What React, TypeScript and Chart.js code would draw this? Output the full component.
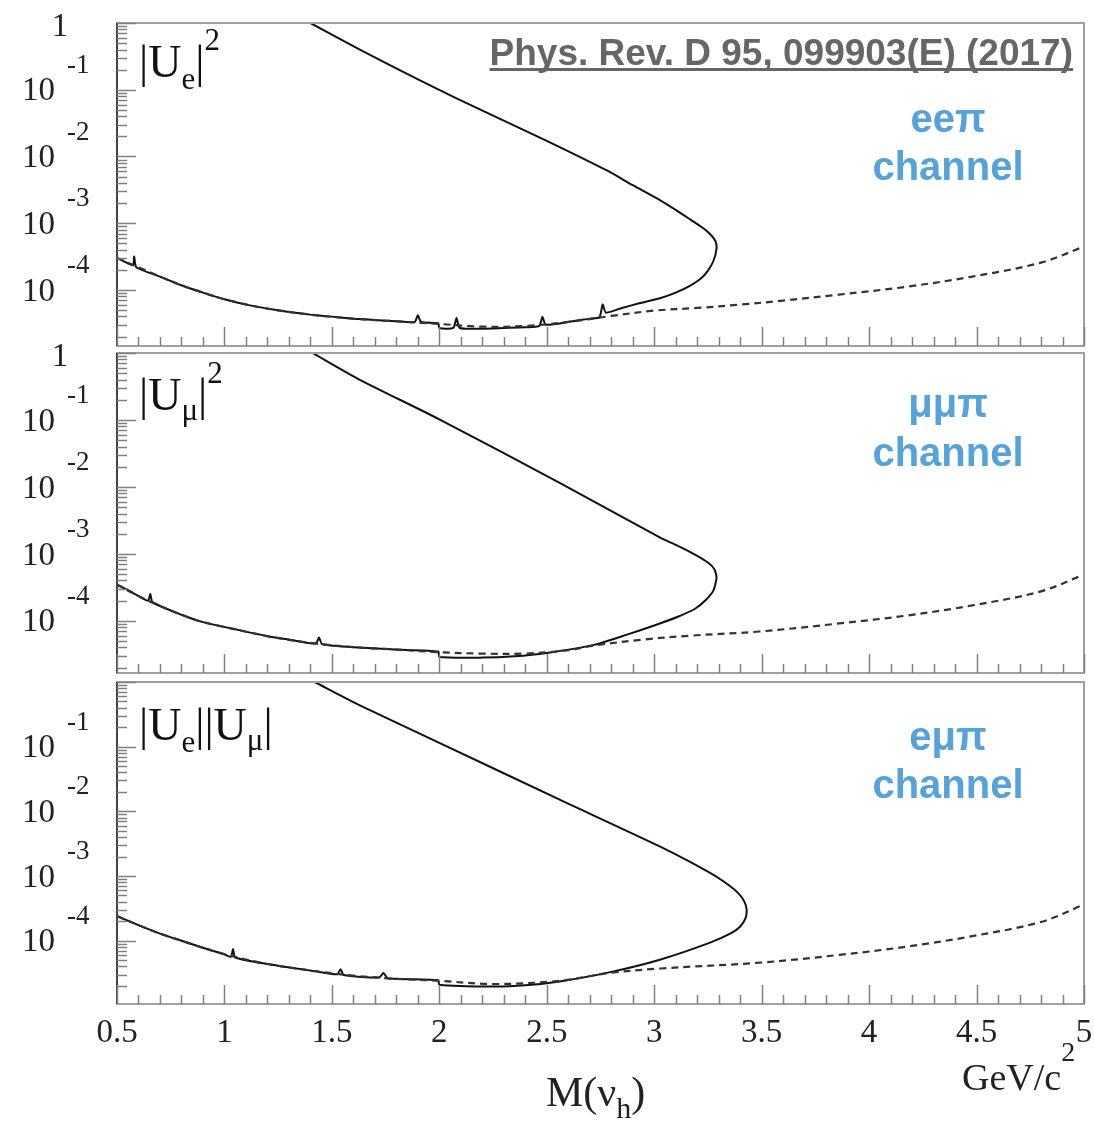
import React, { useEffect, useRef } from "react";
import { Chart, registerables } from "chart.js";
Chart.register(...registerables);

const W = 1094;
const H = 1122;

// x axis
const xTickValues = [0.5, 1, 1.5, 2, 2.5, 3, 3.5, 4, 4.5, 5];
const xTickLabels = ["0.5", "1", "1.5", "2", "2.5", "3", "3.5", "4", "4.5", "5"];
const yDecadeExponents = [-4, -3, -2, -1];

// ---- panel 1: |Ue|^2, ee pi channel (values are log10 of |U|^2) ----
const eeSolidMass = [0.50, 0.55, 0.575, 0.58, 0.59, 0.70, 0.80, 0.90, 1.00, 1.10, 1.20, 1.30, 1.40, 1.50, 1.60, 1.70, 1.80, 1.885, 1.90, 1.915, 1.995, 2.00, 2.065, 2.08, 2.095, 2.20, 2.30, 2.40, 2.465, 2.48, 2.495, 2.60, 2.70, 2.745, 2.76, 2.775, 2.85, 2.93, 3.03, 3.10, 3.17, 3.22, 3.25, 3.275, 3.29, 3.285, 3.265, 3.23, 3.17, 3.10, 3.03, 2.90, 2.78, 2.49, 2.08, 1.91, 1.63, 1.40, 1.37];
const eeSolidLog = [-3.52, -3.60, -3.63, -3.50, -3.66, -3.80, -3.93, -4.04, -4.14, -4.22, -4.28, -4.33, -4.37, -4.40, -4.43, -4.45, -4.47, -4.48, -4.38, -4.48, -4.50, -4.57, -4.57, -4.42, -4.57, -4.58, -4.57, -4.56, -4.54, -4.40, -4.52, -4.48, -4.43, -4.41, -4.22, -4.34, -4.27, -4.20, -4.12, -4.04, -3.93, -3.82, -3.71, -3.57, -3.38, -3.27, -3.18, -3.08, -2.95, -2.80, -2.66, -2.43, -2.21, -1.75, -1.13, -0.86, -0.40, 0.0, 0.05];
const eeDashMass = [0.50, 0.60, 0.70, 0.80, 0.90, 1.00, 1.20, 1.40, 1.60, 1.80, 2.00, 2.20, 2.40, 2.60, 2.80, 3.00, 3.20, 3.40, 3.60, 3.86, 4.18, 4.48, 4.80, 5.00];
const eeDashLog = [-3.52, -3.66, -3.80, -3.93, -4.04, -4.14, -4.28, -4.37, -4.43, -4.47, -4.51, -4.55, -4.54, -4.48, -4.39, -4.31, -4.27, -4.22, -4.16, -4.07, -3.95, -3.80, -3.59, -3.35];

// ---- panel 2: |Umu|^2, mu mu pi channel ----
const mmSolidMass = [0.50, 0.55, 0.60, 0.645, 0.655, 0.665, 0.80, 0.90, 1.04, 1.20, 1.30, 1.425, 1.44, 1.455, 1.63, 1.80, 1.995, 2.00, 2.20, 2.35, 2.50, 2.72, 2.87, 3.00, 3.11, 3.19, 3.24, 3.275, 3.29, 3.28, 3.25, 3.19, 3.11, 3.03, 2.56, 2.00, 1.63, 1.41, 1.38];
const mmSolidLog = [-3.46, -3.54, -3.63, -3.70, -3.60, -3.72, -3.91, -4.02, -4.12, -4.23, -4.28, -4.34, -4.25, -4.35, -4.40, -4.43, -4.46, -4.54, -4.55, -4.53, -4.48, -4.36, -4.21, -4.07, -3.94, -3.82, -3.69, -3.55, -3.36, -3.23, -3.13, -3.01, -2.88, -2.76, -1.94, -0.99, -0.40, 0.0, 0.05];
const mmDashMass = [0.50, 0.60, 0.70, 0.80, 0.90, 1.04, 1.20, 1.40, 1.63, 1.80, 2.00, 2.20, 2.40, 2.60, 2.72, 2.95, 3.18, 3.49, 3.86, 4.18, 4.48, 4.80, 5.00];
const mmDashLog = [-3.46, -3.63, -3.78, -3.91, -4.02, -4.12, -4.23, -4.33, -4.40, -4.43, -4.47, -4.49, -4.49, -4.44, -4.37, -4.28, -4.22, -4.16, -4.04, -3.92, -3.77, -3.56, -3.31];

// ---- panel 3: |Ue||Umu|, e mu pi channel ----
const emSolidMass = [0.50, 0.60, 0.70, 0.80, 0.90, 1.00, 1.03, 1.04, 1.05, 1.20, 1.40, 1.525, 1.54, 1.555, 1.72, 1.74, 1.76, 1.995, 2.00, 2.25, 2.40, 2.56, 2.79, 3.03, 3.26, 3.36, 3.40, 3.425, 3.43, 3.42, 3.39, 3.33, 3.26, 3.03, 2.56, 2.00, 1.63, 1.42, 1.39];
const emSolidLog = [-3.62, -3.76, -3.89, -4.00, -4.11, -4.21, -4.25, -4.13, -4.26, -4.36, -4.46, -4.52, -4.44, -4.53, -4.57, -4.50, -4.58, -4.61, -4.68, -4.71, -4.69, -4.63, -4.49, -4.29, -4.03, -3.88, -3.78, -3.65, -3.52, -3.40, -3.26, -3.10, -2.95, -2.55, -1.82, -0.94, -0.36, 0.0, 0.05];
const emDashMass = [0.50, 0.60, 0.70, 0.80, 0.90, 1.00, 1.20, 1.40, 1.60, 1.80, 2.00, 2.25, 2.56, 2.79, 3.03, 3.49, 3.86, 4.18, 4.48, 4.80, 5.00];
const emDashLog = [-3.62, -3.76, -3.89, -4.00, -4.11, -4.21, -4.36, -4.46, -4.54, -4.59, -4.62, -4.67, -4.62, -4.50, -4.43, -4.34, -4.22, -4.09, -3.93, -3.71, -3.44];

const SERIF = '"Liberation Serif", "Times New Roman", serif';
const SANS = '"Liberation Sans", Arial, sans-serif';
const BLUE = "#56a3dc";

type Part = { t: string; size: number; dy: number };

const panels = [
  {
    top: 23, bottom: 346, yMin: 1.445e-5, yMax: 1,
    solidMass: eeSolidMass, solidLog: eeSolidLog, dashMass: eeDashMass, dashLog: eeDashLog,
    label: [{ t: "|U", size: 46, dy: 0 }, { t: "e", size: 31, dy: 12 }, { t: "|", size: 46, dy: 0 }, { t: "2", size: 31, dy: -27 }] as Part[],
    labelBase: 77, chan: "ee\u03c0", chanBase: 132, chanBase2: 180, showOne: true, showRef: true, showX: false,
  },
  {
    top: 353, bottom: 673, yMin: 1.66e-5, yMax: 1,
    solidMass: mmSolidMass, solidLog: mmSolidLog, dashMass: mmDashMass, dashLog: mmDashLog,
    label: [{ t: "|U", size: 46, dy: 0 }, { t: "\u03bc", size: 31, dy: 10 }, { t: "|", size: 46, dy: 0 }, { t: "2", size: 31, dy: -27 }] as Part[],
    labelBase: 410, chan: "\u03bc\u03bc\u03c0", chanBase: 417, chanBase2: 466, showOne: true, showRef: false, showX: false,
  },
  {
    top: 682, bottom: 1004, yMin: 1.05e-5, yMax: 1,
    solidMass: emSolidMass, solidLog: emSolidLog, dashMass: emDashMass, dashLog: emDashLog,
    label: [{ t: "|U", size: 46, dy: 0 }, { t: "e", size: 31, dy: 12 }, { t: "||U", size: 46, dy: 0 }, { t: "\u03bc", size: 31, dy: 10 }, { t: "|", size: 46, dy: 0 }] as Part[],
    labelBase: 740, chan: "e\u03bc\u03c0", chanBase: 750, chanBase2: 798, showOne: false, showRef: false, showX: true,
  },
];

function drawParts(ctx: CanvasRenderingContext2D, parts: Part[], x: number, base: number, family: string) {
  let cx = x;
  for (const p of parts) {
    ctx.font = `${p.size}px ${family}`;
    ctx.fillText(p.t, cx, base + p.dy);
    cx += ctx.measureText(p.t).width;
  }
  return cx;
}

function makeOverlay(p: any) {
  return {
    id: "rootStyleOverlay",
    afterDraw(chart: any) {
      const ctx: CanvasRenderingContext2D = chart.ctx;
      const a = chart.chartArea;
      const xs = chart.scales.x;
      const ys = chart.scales.y;
      ctx.save();
      // frame
      ctx.strokeStyle = "#a0a0a0";
      ctx.lineWidth = 2;
      ctx.strokeRect(a.left, a.top, a.right - a.left, a.bottom - a.top);
      ctx.strokeStyle = "#444";
      ctx.beginPath();
      ctx.moveTo(a.left, a.top);
      ctx.lineTo(a.left, a.bottom);
      ctx.stroke();

      // x ticks (inside, bottom only)
      ctx.strokeStyle = "#808080";
      ctx.lineWidth = 1.5;
      for (let i = 5; i <= 50; i++) {
        const v = i / 10;
        const px = Math.round(xs.getPixelForValue(v)) + 0.5;
        const len = i % 5 === 0 ? 19 : 9;
        ctx.beginPath();
        ctx.moveTo(px, a.bottom);
        ctx.lineTo(px, a.bottom - len);
        ctx.stroke();
      }
      // y ticks (inside, left only)
      for (let k = -6; k <= 0; k++) {
        for (let d = 1; d <= 9; d++) {
          const v = d * Math.pow(10, k);
          if (v < p.yMin || v > p.yMax * 1.0001) continue;
          const py = Math.round(ys.getPixelForValue(v)) + 0.5;
          const len = d === 1 ? 19 : 10;
          ctx.beginPath();
          ctx.moveTo(a.left, py);
          ctx.lineTo(a.left + len, py);
          ctx.stroke();
        }
      }

      // y labels
      ctx.fillStyle = "#222";
      ctx.textBaseline = "middle";
      for (const e of yDecadeExponents) {
        const py = ys.getPixelForValue(Math.pow(10, e));
        ctx.font = `33px ${SERIF}`;
        ctx.textAlign = "right";
        ctx.fillText("10", 55, py + 2);
        ctx.font = `27px ${SERIF}`;
        ctx.textAlign = "left";
        ctx.fillText(`${e}`, 67, py - 24);
      }
      if (p.showOne) {
        const py = ys.getPixelForValue(1);
        ctx.font = `33px ${SERIF}`;
        ctx.textAlign = "center";
        ctx.fillText("1", 60, py + 4);
      }

      // panel label
      ctx.textBaseline = "alphabetic";
      ctx.textAlign = "left";
      ctx.fillStyle = "#111";
      drawParts(ctx, p.label, 139, p.labelBase, SERIF);

      // channel text
      ctx.fillStyle = BLUE;
      ctx.textAlign = "center";
      ctx.font = `bold 40px ${SANS}`;
      ctx.fillText(p.chan, 948, p.chanBase);
      ctx.fillText("channel", 948, p.chanBase2);

      // reference text
      if (p.showRef) {
        const txt = "Phys. Rev. D 95, 099903(E) (2017)";
        ctx.font = `bold 37px ${SANS}`;
        ctx.fillStyle = "#666";
        ctx.textAlign = "right";
        ctx.fillText(txt, 1073, 65);
        const w = ctx.measureText(txt).width;
        ctx.fillRect(1073 - w, 68, w, 3);
      }

      // x axis labels and title
      if (p.showX) {
        ctx.fillStyle = "#222";
        ctx.textAlign = "center";
        ctx.font = `33px ${SERIF}`;
        xTickValues.forEach((v, i) => {
          ctx.fillText(xTickLabels[i], xs.getPixelForValue(v), 1042);
        });
        ctx.textAlign = "left";
        drawParts(ctx, [{ t: "M(\u03bd", size: 42, dy: 0 }, { t: "h", size: 30, dy: 12 }, { t: ")", size: 42, dy: 0 }], 546, 1106, SERIF);
        drawParts(ctx, [{ t: "GeV/c", size: 38, dy: 0 }, { t: "2", size: 28, dy: -29 }], 962, 1090, SERIF);
      }
      ctx.restore();
    },
  };
}

function toPoints(mass: number[], logs: number[]) {
  return mass.map((m, i) => ({ x: m, y: Math.pow(10, logs[i]) }));
}

export default function App() {
  const r0 = useRef<HTMLCanvasElement>(null);
  const r1 = useRef<HTMLCanvasElement>(null);
  const r2 = useRef<HTMLCanvasElement>(null);
  const refs = [r0, r1, r2];

  useEffect(() => {
    const charts = panels.map((p, i) => {
      const canvas = refs[i].current as HTMLCanvasElement;
      return new Chart(canvas, {
        type: "scatter",
        data: {
          datasets: [
            {
              data: toPoints(p.dashMass, p.dashLog),
              showLine: true,
              borderColor: "#333",
              borderWidth: 2.2,
              borderDash: [7, 5],
              pointRadius: 0,
              tension: 0.35,
              clip: 0,
            },
            {
              data: toPoints(p.solidMass, p.solidLog),
              showLine: true,
              borderColor: "#111",
              borderWidth: 2,
              pointRadius: 0,
              tension: 0.2,
              clip: 0,
            },
          ],
        },
        options: {
          responsive: false,
          animation: false,
          devicePixelRatio: 1,
          events: [],
          layout: { padding: { left: 117, right: W - 1084, top: p.top, bottom: H - p.bottom } },
          plugins: { legend: { display: false }, tooltip: { enabled: false } },
          scales: {
            x: { type: "linear", min: 0.5, max: 5, display: false },
            y: { type: "logarithmic", min: p.yMin, max: p.yMax, display: false },
          },
        } as any,
        plugins: [makeOverlay(p)],
      });
    });
    return () => charts.forEach((c) => c.destroy());
  }, []);

  const cs: React.CSSProperties = { position: "absolute", left: 0, top: 0, width: W, height: H };
  return (
    <div style={{ position: "absolute", left: 0, top: 0, width: W, height: H, background: "#fff" }}>
      <canvas ref={r0} width={W} height={H} style={cs} />
      <canvas ref={r1} width={W} height={H} style={cs} />
      <canvas ref={r2} width={W} height={H} style={cs} />
    </div>
  );
}
